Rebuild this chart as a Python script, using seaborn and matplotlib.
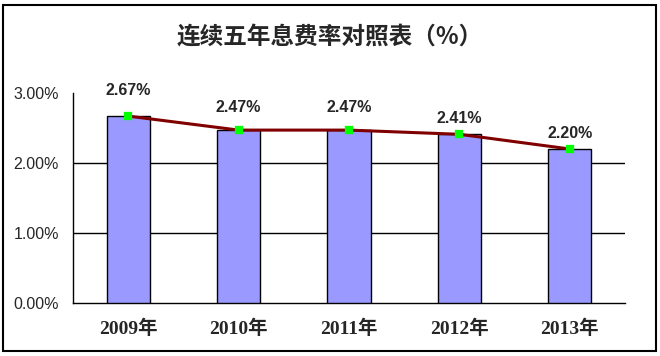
import matplotlib
matplotlib.use("Agg")
import matplotlib.pyplot as plt
from matplotlib.patches import Rectangle
from matplotlib.ticker import FixedLocator, FuncFormatter
import seaborn as sns

years = ['2009年', '2010年', '2011年', '2012年', '2013年']
rates = [2.67, 2.47, 2.47, 2.41, 2.20]
label_offsets = [18, 15, 15, 8, 8]  # px above bar top, as in the picture

sns.set_style("white")
plt.rcParams['font.family'] = ['Liberation Sans', 'Noto Sans CJK SC']

fig = plt.figure(figsize=(6.6, 3.56), dpi=100)
ax = fig.add_axes([73 / 660, 1 - 303 / 356, 552 / 660, 210 / 356])

sns.barplot(x=years, y=rates, color='#9999FF', saturation=1, width=0.39,
            edgecolor='black', linewidth=1, ax=ax, zorder=3)
sns.pointplot(x=years, y=rates, color='#800000', markers='s', errorbar=None,
              linewidth=2.2, markersize=5, markerfacecolor='#00FF00',
              markeredgecolor='#00FF00', ax=ax, zorder=4)

ax.set_ylim(0, 3)
ax.set_xlim(-0.5, 4.5)
ax.yaxis.set_major_locator(FixedLocator([0, 1, 2, 3]))
ax.yaxis.set_major_formatter(FuncFormatter(lambda v, p: '%.2f%%' % v))
for yv in [1, 2]:
    ax.axhline(yv, color='black', lw=1, zorder=1)

ax.set_xticks([0.5, 1.5, 2.5, 3.5], minor=True)
ax.tick_params(axis='x', which='minor', direction='in', length=5, width=1, color='black')
ax.tick_params(axis='x', which='major', length=0, pad=12)
ax.tick_params(axis='y', direction='in', length=5, width=1, color='black', pad=10,
               labelsize=11.5)
for lab in ax.get_xticklabels():
    lab.set_family(['Liberation Serif', 'Noto Sans CJK SC'])
    lab.set_fontweight('bold')
    lab.set_fontsize(14)

sns.despine(ax=ax)
for s in ['left', 'bottom']:
    ax.spines[s].set_color('black')
    ax.spines[s].set_linewidth(1)
ax.set_xlabel('')
ax.set_ylabel('')

for i, (v, off) in enumerate(zip(rates, label_offsets)):
    ax.annotate('%.2f%%' % v, (i, v), xytext=(0, off), textcoords='offset pixels',
                ha='center', va='bottom', fontsize=11.5, fontweight='bold')

fig.text(0.5, 1 - 37 / 356, '连续五年息费率对照表（%）', ha='center', va='center',
         fontsize=17, fontweight='bold', family=['Noto Sans CJK SC', 'DejaVu Sans'])

fig.patches.append(Rectangle((3 / 660, 1 - 351 / 356), 653 / 660, 346 / 356,
                             transform=fig.transFigure, fill=False,
                             edgecolor='black', lw=1.5))

fig.savefig('out.png', dpi=100)
